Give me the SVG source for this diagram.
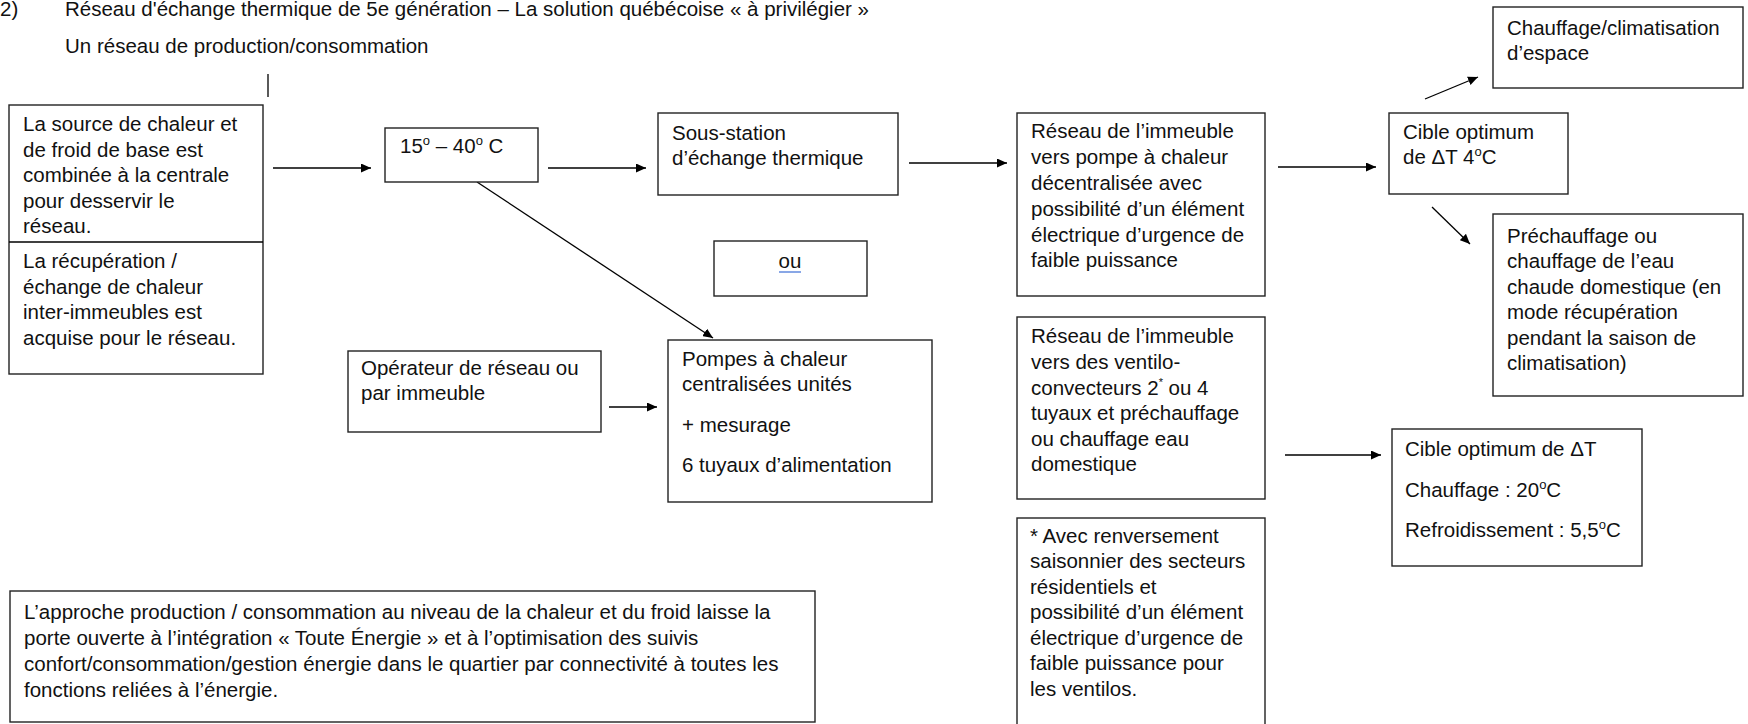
<svg xmlns="http://www.w3.org/2000/svg" width="1748" height="724" viewBox="0 0 1748 724">
<defs>
<marker id="ah" markerUnits="userSpaceOnUse" markerWidth="11" markerHeight="9" refX="10" refY="4.5" orient="auto">
<path d="M0,0 L10,4.5 L0,9 z" fill="#000"/>
</marker>
<style>
text{font-family:"Liberation Sans",Arial,sans-serif;font-size:20.5px;fill:#111}
.box{fill:#fff;stroke:#222;stroke-width:1.4}
.ln{stroke:#000;stroke-width:1.3;fill:none}
.ar{stroke:#000;stroke-width:1.3;fill:none;marker-end:url(#ah)}
</style>
</defs>
<rect width="1748" height="724" fill="#fff"/>

<g id="title">
<text x="0" y="16">2)</text>
<text x="65" y="16">Réseau d'échange thermique de 5e génération – La solution québécoise « à privilégier »</text>
<text x="65" y="53">Un réseau de production/consommation</text>
</g>

<g id="connectors">
<line class="ln" x1="268" y1="74" x2="268" y2="97"/>
<line class="ar" x1="273" y1="168" x2="371" y2="168"/>
<line class="ar" x1="548" y1="168" x2="646" y2="168"/>
<line class="ar" x1="909" y1="163" x2="1007" y2="163"/>
<line class="ar" x1="1278" y1="167" x2="1376" y2="167"/>
<line class="ar" x1="1425" y1="99" x2="1478" y2="77"/>
<line class="ar" x1="1432" y1="207" x2="1470" y2="244"/>
<line class="ar" x1="477" y1="182" x2="713" y2="338"/>
<line class="ar" x1="609" y1="407" x2="657" y2="407"/>
<line class="ar" x1="1285" y1="455" x2="1381" y2="455"/>
</g>

<g id="source">
<rect class="box" x="9" y="105" width="254" height="269"/>
<line class="ln" x1="9" y1="242" x2="263" y2="242"/>
<text x="23" y="131">La source de chaleur et</text>
<text x="23" y="156.5">de froid de base est</text>
<text x="23" y="182">combinée à la centrale</text>
<text x="23" y="207.5">pour desservir le</text>
<text x="23" y="233">réseau.</text>
<text x="23" y="268">La récupération /</text>
<text x="23" y="293.5">échange de chaleur</text>
<text x="23" y="319">inter-immeubles est</text>
<text x="23" y="344.5">acquise pour le réseau.</text>
</g>

<g id="temp">
<rect class="box" x="385" y="128" width="153" height="54"/>
<text x="400" y="153">15<tspan font-size="13" dy="-8">o</tspan><tspan dy="8"> – 40</tspan><tspan font-size="13" dy="-8">o</tspan><tspan dy="8"> C</tspan></text>
</g>

<g id="sousstation">
<rect class="box" x="658" y="113" width="240" height="82"/>
<text x="672" y="140">Sous-station</text>
<text x="672" y="165">d’échange thermique</text>
</g>

<g id="ou">
<rect class="box" x="714" y="241" width="153" height="55"/>
<text x="790" y="268" text-anchor="middle">ou</text>
<line x1="779" y1="272" x2="801" y2="272" stroke="#4a78d8" stroke-width="1.3"/>
</g>

<g id="reseau-pac">
<rect class="box" x="1017" y="113" width="248" height="183"/>
<text x="1031" y="138">Réseau de l’immeuble</text>
<text x="1031" y="164">vers pompe à chaleur</text>
<text x="1031" y="190">décentralisée avec</text>
<text x="1031" y="216">possibilité d’un élément</text>
<text x="1031" y="242">électrique d’urgence de</text>
<text x="1031" y="267">faible puissance</text>
</g>

<g id="cible4">
<rect class="box" x="1389" y="113" width="179" height="81"/>
<text x="1403" y="139">Cible optimum</text>
<text x="1403" y="164">de ΔT 4<tspan font-size="13" dy="-8">o</tspan><tspan dy="8">C</tspan></text>
</g>

<g id="espace">
<rect class="box" x="1493" y="7" width="250" height="81"/>
<text x="1507" y="35">Chauffage/climatisation</text>
<text x="1507" y="60">d’espace</text>
</g>

<g id="prechauffage">
<rect class="box" x="1493" y="214" width="250" height="182"/>
<text x="1507" y="243">Préchauffage ou</text>
<text x="1507" y="268">chauffage de l’eau</text>
<text x="1507" y="293.5">chaude domestique (en</text>
<text x="1507" y="319">mode récupération</text>
<text x="1507" y="344.5">pendant la saison de</text>
<text x="1507" y="370">climatisation)</text>
</g>

<g id="operateur">
<rect class="box" x="348" y="351" width="253" height="81"/>
<text x="361" y="375">Opérateur de réseau ou</text>
<text x="361" y="400">par immeuble</text>
</g>

<g id="pompes">
<rect class="box" x="668" y="340" width="264" height="162"/>
<text x="682" y="366">Pompes à chaleur</text>
<text x="682" y="391">centralisées unités</text>
<text x="682" y="432">+ mesurage</text>
<text x="682" y="472">6 tuyaux d’alimentation</text>
</g>

<g id="reseau-ventilo">
<rect class="box" x="1017" y="317" width="248" height="182"/>
<text x="1031" y="343">Réseau de l’immeuble</text>
<text x="1031" y="369">vers des ventilo-</text>
<text x="1031" y="395">convecteurs 2<tspan font-size="11" dy="-9">*</tspan><tspan dy="9"> ou 4</tspan></text>
<text x="1031" y="420">tuyaux et préchauffage</text>
<text x="1031" y="446">ou chauffage eau</text>
<text x="1031" y="471">domestique</text>
</g>

<g id="note">
<rect class="box" x="1017" y="518" width="248" height="230"/>
<text x="1030" y="543">* Avec renversement</text>
<text x="1030" y="568">saisonnier des secteurs</text>
<text x="1030" y="594">résidentiels et</text>
<text x="1030" y="619">possibilité d’un élément</text>
<text x="1030" y="645">électrique d’urgence de</text>
<text x="1030" y="670">faible puissance pour</text>
<text x="1030" y="696">les ventilos.</text>
</g>

<g id="cible-dt">
<rect class="box" x="1392" y="429" width="250" height="137"/>
<text x="1405" y="456">Cible optimum de ΔT</text>
<text x="1405" y="497">Chauffage : 20<tspan font-size="13" dy="-8">o</tspan><tspan dy="8">C</tspan></text>
<text x="1405" y="537">Refroidissement : 5,5<tspan font-size="13" dy="-8">o</tspan><tspan dy="8">C</tspan></text>
</g>

<g id="approche">
<rect class="box" x="10" y="591" width="805" height="131"/>
<text x="24" y="619">L’approche production / consommation au niveau de la chaleur et du froid laisse la</text>
<text x="24" y="645">porte ouverte à l’intégration « Toute Énergie » et à l’optimisation des suivis</text>
<text x="24" y="671">confort/consommation/gestion énergie dans le quartier par connectivité à toutes les</text>
<text x="24" y="697">fonctions reliées à l’énergie.</text>
</g>
</svg>
